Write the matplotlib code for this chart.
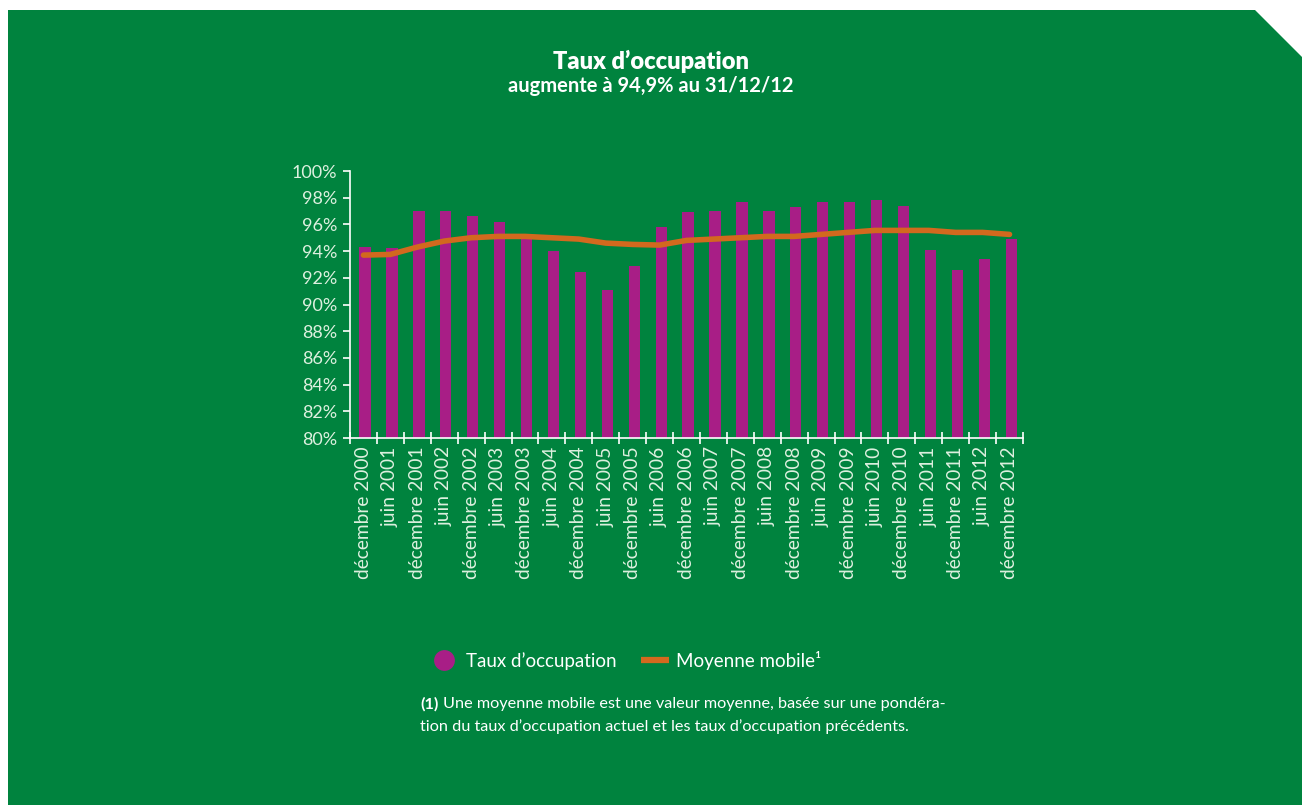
import matplotlib
matplotlib.use("Agg")
import matplotlib.pyplot as plt
from matplotlib.patches import Polygon
from matplotlib.lines import Line2D
import numpy as np

plt.rcParams["font.family"] = ["Lato", "DejaVu Sans"]

periods = [
    "décembre 2000", "juin 2001", "décembre 2001", "juin 2002", "décembre 2002",
    "juin 2003", "décembre 2003", "juin 2004", "décembre 2004", "juin 2005",
    "décembre 2005", "juin 2006", "décembre 2006", "juin 2007", "décembre 2007",
    "juin 2008", "décembre 2008", "juin 2009", "décembre 2009", "juin 2010",
    "décembre 2010", "juin 2011", "décembre 2011", "juin 2012", "décembre 2012",
]
occupation = [94.3, 94.2, 97.0, 97.0, 96.6, 96.2, 95.0, 94.0, 92.4, 91.1,
              92.9, 95.8, 96.9, 97.0, 97.7, 97.0, 97.3, 97.7, 97.7, 97.85,
              97.4, 94.05, 92.55, 93.4, 94.9]
moving_avg = [93.7, 93.75, 94.3, 94.75, 95.0, 95.1, 95.1, 95.0, 94.9, 94.6,
              94.5, 94.45, 94.8, 94.9, 95.0, 95.1, 95.1, 95.25, 95.4, 95.55,
              95.55, 95.55, 95.4, 95.4, 95.25]
y_ticks = list(range(80, 101, 2))

GREEN = "#00833E"
MAGENTA = "#A81E86"
ORANGE = "#D2691E"
LIGHT = "#DDF0DF"

W, H = 1302, 805
fig = plt.figure(figsize=(W / 100, H / 100), dpi=100)
fig.patch.set_facecolor("white")

# green panel with clipped top-right corner, on a background axes
bg = fig.add_axes([0, 0, 1, 1], zorder=0)
bg.set_xlim(0, W)
bg.set_ylim(H, 0)
bg.axis("off")
bg.add_patch(Polygon([(8, 10), (1255, 10), (1302, 57), (1302, 805), (8, 805)],
                     closed=True, facecolor=GREEN, edgecolor="none"))

ax = fig.add_axes([350 / W, 1 - 438 / H, (1023 - 350) / W, (438 - 171) / H], zorder=2)
ax.set_facecolor("none")

x = np.arange(len(periods))
ax.bar(x + 0.06, np.array(occupation) - 80, bottom=80, width=0.42, color=MAGENTA, zorder=2)
ax.plot(x, moving_avg, color=ORANGE, linewidth=4, solid_capstyle="round", zorder=3)

ax.set_xlim(-0.5, len(periods) - 0.5)
ax.set_ylim(80, 100)
ax.set_yticks(y_ticks)
ax.set_yticklabels([f"{v}%" for v in y_ticks])
ax.set_xticks(x)
ax.set_xticklabels(periods, rotation=90)
ax.set_xticks(np.arange(len(periods) + 1) - 0.5, minor=True)

for s in ["top", "right"]:
    ax.spines[s].set_visible(False)
for s in ["left", "bottom"]:
    ax.spines[s].set_color("white")
    ax.spines[s].set_linewidth(1.2)

ax.tick_params(axis="x", which="major", length=0, pad=6, labelsize=13.8, labelcolor=LIGHT)
ax.tick_params(axis="x", which="minor", length=8, direction="inout", color="white", width=1.2)
ax.tick_params(axis="y", length=5, color="white", width=1.2, labelsize=13, labelcolor=LIGHT, pad=4)

# titles
fig.text(651 / W, 1 - 61 / H, "Taux d’occupation", ha="center", va="center",
         fontsize=17, fontweight="heavy", color="white")
fig.text(651 / W, 1 - 86 / H, "augmente à 94,9% au 31/12/12", ha="center", va="center",
         fontsize=14.5, fontweight="bold", color="white")

# legend
handles = [
    Line2D([], [], marker="o", linestyle="none", markersize=15,
           markerfacecolor=MAGENTA, markeredgecolor="none"),
    Line2D([], [], color=ORANGE, linewidth=4.5, solid_capstyle="butt"),
]
leg = fig.legend(handles, ["Taux d’occupation", "Moyenne mobile¹"], ncol=2,
                 loc="center", bbox_to_anchor=(626 / W, 1 - 660 / H), frameon=False,
                 fontsize=13.5, handlelength=1.5, handletextpad=0.4, columnspacing=1.3)
for t in leg.get_texts():
    t.set_color("white")

# footnote
fig.text(420 / W, 1 - 704 / H, "(1)", ha="left", va="center",
         fontsize=11.7, fontweight="bold", color="white")
fig.text(443 / W, 1 - 704 / H,
         "Une moyenne mobile est une valeur moyenne, basée sur une pondéra-",
         ha="left", va="center", fontsize=11.7, color="white")
fig.text(420 / W, 1 - 727 / H,
         "tion du taux d’occupation actuel et les taux d’occupation précédents.",
         ha="left", va="center", fontsize=11.7, color="white")

fig.savefig("out.png", dpi=100)
